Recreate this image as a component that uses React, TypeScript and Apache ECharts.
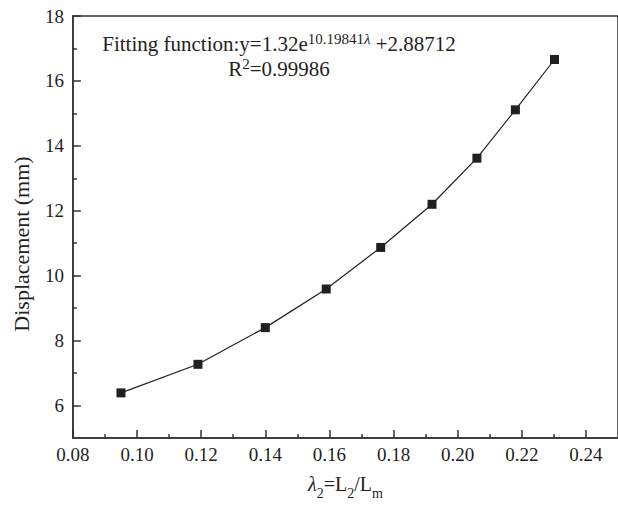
import React, { useEffect, useRef } from 'react';
import * as echarts from 'echarts';

const xValues = [0.095, 0.119, 0.14, 0.159, 0.176, 0.192, 0.206, 0.218, 0.2302];
const yValues = [6.39, 7.27, 8.4, 9.59, 10.87, 12.2, 13.62, 15.11, 16.66];
const xTicks = [0.08, 0.1, 0.12, 0.14, 0.16, 0.18, 0.2, 0.22, 0.24];
const xMinorTicks = [0.09, 0.11, 0.13, 0.15, 0.17, 0.19, 0.21, 0.23];
const yTicks = [6, 8, 10, 12, 14, 16, 18];
const yMinorTicks = [7, 9, 11, 13, 15, 17];

const FONT = 'Liberation Serif';
const INK = '#231f20';
const AXIS = '#333333';

export default function App() {
  const ref = useRef<HTMLDivElement>(null);
  useEffect(() => {
    document.body.style.margin = '0';
    const chart = echarts.init(ref.current!, null, { renderer: 'svg' });
    const lineStyle = { color: AXIS, width: 1.5 };
    chart.setOption({
      animation: false,
      grid: { left: 72, top: 16, right: -7, bottom: 61, show: true, borderColor: AXIS, borderWidth: 1.5 },
      xAxis: [
        {
          type: 'value', min: 0.08, max: 0.25, interval: 0.02, position: 'bottom',
          axisLine: { show: true, lineStyle },
          axisTick: { show: true, inside: true, length: 8, customValues: xTicks, lineStyle },
          axisLabel: { customValues: xTicks, formatter: (v: number) => v.toFixed(2), fontFamily: FONT, fontSize: 19, color: INK, margin: 7 },
          splitLine: { show: false },
          name: '{l|λ}{sub|2}{n|=L}{sub|2}{n|/L}{sub|m}',
          nameLocation: 'middle', nameGap: 35,
          nameTextStyle: {
            rich: {
              l: { fontFamily: FONT, fontSize: 20, fontStyle: 'italic', color: INK, lineHeight: 22 },
              n: { fontFamily: FONT, fontSize: 20, color: INK, lineHeight: 22 },
              sub: { fontFamily: FONT, fontSize: 14, color: INK, verticalAlign: 'bottom', lineHeight: 14, padding: [0, 0, -5, 0] },
            },
          },
        },
        {
          type: 'value', min: 0.08, max: 0.25, interval: 0.02, position: 'bottom',
          axisLine: { show: false },
          axisTick: { show: true, inside: true, length: 4, customValues: xMinorTicks, lineStyle },
          axisLabel: { show: false },
          splitLine: { show: false },
        },
      ],
      yAxis: [
        {
          type: 'value', min: 5, max: 18, interval: 1, position: 'left',
          axisLine: { show: true, lineStyle },
          axisTick: { show: true, inside: true, length: 8, customValues: yTicks, lineStyle },
          axisLabel: { customValues: yTicks, fontFamily: FONT, fontSize: 19, color: INK, margin: 9 },
          splitLine: { show: false },
          name: 'Displacement (mm)',
          nameLocation: 'middle', nameGap: 34,
          nameTextStyle: { fontFamily: FONT, fontSize: 22, color: INK, lineHeight: 26, padding: [0, 34, 0, 0] },
        },
        {
          type: 'value', min: 5, max: 18, interval: 1, position: 'left',
          axisLine: { show: false },
          axisTick: { show: true, inside: true, length: 4, customValues: yMinorTicks, lineStyle },
          axisLabel: { show: false },
          splitLine: { show: false },
        },
      ],
      graphic: [
        {
          type: 'text', x: 279, y: 31,
          style: {
            text: '{a|Fitting function:y=1.32e}{s|10.19841}{si|λ}{a| +2.88712}\n{a|R}{s|2}{a|=0.99986}',
            align: 'center',
            rich: {
              a: { fontFamily: FONT, fontSize: 21, fill: INK, lineHeight: 25 },
              s: { fontFamily: FONT, fontSize: 15, fill: INK, verticalAlign: 'top', lineHeight: 12 },
              si: { fontFamily: FONT, fontSize: 15, fontStyle: 'italic', fill: INK, verticalAlign: 'top', lineHeight: 12 },
            },
          },
        },
      ],
      series: [
        {
          type: 'line',
          data: xValues.map((x, i) => [x, yValues[i]]),
          symbol: 'rect', symbolSize: 9,
          itemStyle: { color: INK },
          lineStyle: { color: INK, width: 1.2 },
        },
      ],
    });
    return () => chart.dispose();
  }, []);
  return <div ref={ref} style={{ width: 618, height: 505 }} />;
}
